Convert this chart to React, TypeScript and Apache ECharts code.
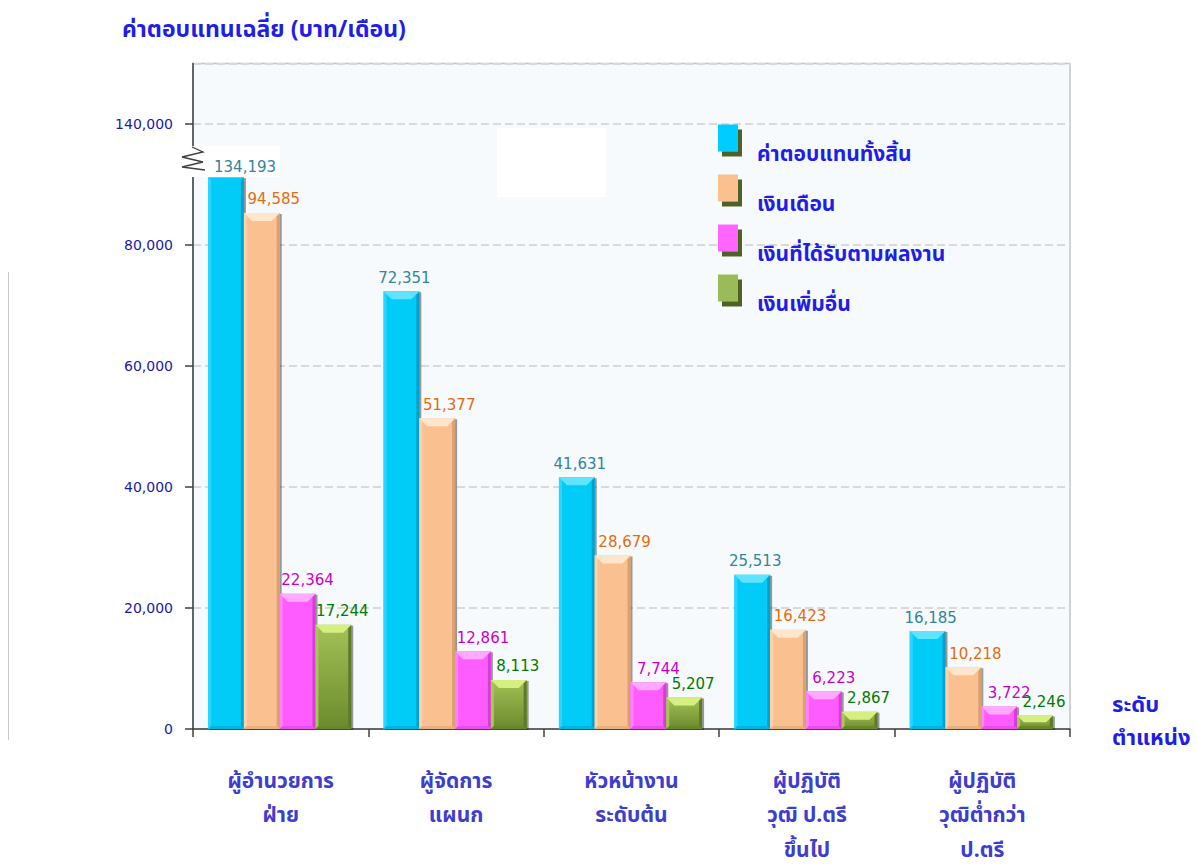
import React, { useEffect, useRef } from "react";
import * as echarts from "echarts";

const categories = [
  "ผู้อำนวยการ\nฝ่าย",
  "ผู้จัดการ\nแผนก",
  "หัวหน้างาน\nระดับต้น",
  "ผู้ปฏิบัติ\nวุฒิ ป.ตรี\nขึ้นไป",
  "ผู้ปฏิบัติ\nวุฒิต่ำกว่า\nป.ตรี",
];
const seriesNames = ["ค่าตอบแทนทั้งสิ้น", "เงินเดือน", "เงินที่ได้รับตามผลงาน", "เงินเพิ่มอื่น"];
const totalPay = [134193, 72351, 41631, 25513, 16185];
const salary = [94585, 51377, 28679, 16423, 10218];
const performancePay = [22364, 12861, 7744, 6223, 3722];
const otherPay = [17244, 8113, 5207, 2867, 2246];
// drawn heights of the bars that cross the axis break
const brokenAxisHeights: Record<number, number> = { 134193: 91200, 94585: 85300 };
const yTicks = [0, 20000, 40000, 60000, 80000, 100000];
const yTickLabels = ["0", "20,000", "40,000", "60,000", "80,000", "140,000"];
const axisNameLines = ["ระดับ", "ตำแหน่ง"];

const FONT = "Tahoma, 'Noto Sans Thai', 'Noto Sans', 'DejaVu Sans', sans-serif";
const BLUE = "#1e1ee6";

const palettes = [
  { body: "#00ccf7", top: "#5fe3ff", side: "#2ad6ff", dark: "#00a2cc", bottom: "#00b4e0", label: "#31859c", legend: "#00ccff", off: 3 },
  { body: "#fac090", top: "#fee6cc", side: "#fcd2aa", dark: "#d9a070", bottom: "#e8b080", label: "#e46c0a", legend: "#fac090", off: 12 },
  { body: "#ff5cff", top: "#ffaaff", side: "#ff80ff", dark: "#d83cd8", bottom: "#e84ee8", label: "#cc00cc", legend: "#ff66ff", off: 10 },
  { body: "#93b24c", top: "#d6f080", side: "#a8c65a", dark: "#5f7a26", bottom: "#6a862c", label: "#007a00", legend: "#9bbb59", off: 9, grad: ["#a4c257", "#6b8a2c"] },
];

const allSeries = [totalPay, salary, performancePay, otherPay];

function fmt(v: number) {
  return v.toLocaleString("en-US");
}

function makeRender(si: number) {
  const pal: any = palettes[si];
  return (params: any, api: any) => {
    const cat = api.value(0);
    const h = api.value(1);
    const real = api.value(2);
    const band = api.size([1, 0])[0];
    const bw = band * 0.204;
    const c = api.coord([cat, h]);
    const base = api.coord([cat, 0]);
    const x0 = c[0] - 2 * bw + si * bw - 1;
    const x1 = x0 + bw;
    const y0 = c[1];
    const y1 = base[1];
    const hgt = y1 - y0;
    const broken = brokenAxisHeights[real] !== undefined;
    const b = broken && si === 0 ? 0 : Math.min(8, hgt / 2, bw / 2);
    const s = Math.min(3, hgt / 3);
    const bodyFill = pal.grad
      ? new echarts.graphic.LinearGradient(0, 0, 0, 1, [
          { offset: 0, color: pal.grad[0] },
          { offset: 1, color: pal.grad[1] },
        ])
      : pal.body;
    const lx = (x0 + x1) / 2 + pal.off + (broken && si === 0 ? 16 : 0);
    const ly = broken && si === 0 ? y0 - 3 : y0 - 6;
    return {
      type: "group",
      children: [
        { type: "rect", shape: { x: x0 + 2, y: y0 + 1, width: bw, height: hgt }, style: { fill: "rgba(30,30,30,0.45)" } },
        { type: "rect", shape: { x: x0, y: y0, width: bw, height: hgt }, style: { fill: bodyFill } },
        { type: "polygon", shape: { points: [[x0, y0], [x0 + s, y0 + s], [x0 + s, y1 - s], [x0, y1]] }, style: { fill: pal.side } },
        { type: "polygon", shape: { points: [[x1, y0], [x1 - s, y0 + s], [x1 - s, y1 - s], [x1, y1]] }, style: { fill: pal.dark } },
        { type: "polygon", shape: { points: [[x0, y0], [x1, y0], [x1 - b, y0 + b], [x0 + b, y0 + b]] }, style: { fill: pal.top } },
        { type: "polygon", shape: { points: [[x0, y1], [x1, y1], [x1 - s, y1 - s], [x0 + s, y1 - s]] }, style: { fill: pal.bottom } },
        {
          type: "text",
          z2: 50,
          style: {
            text: fmt(real),
            x: lx,
            y: ly,
            fill: pal.label,
            font: "15px 'DejaVu Sans', Tahoma, sans-serif",
            align: "center",
            verticalAlign: "bottom",
            textAlign: "center",
            textVerticalAlign: "bottom",
          },
        },
      ],
    };
  };
}

export default function App() {
  const ref = useRef<HTMLDivElement>(null);
  useEffect(() => {
    if (!ref.current) return;
    const chart = echarts.init(ref.current, null, { renderer: "svg" });
    const series = allSeries.map((vals, si) => ({
      name: seriesNames[si],
      type: "custom",
      z: 2,
      itemStyle: { color: palettes[si].legend },
      encode: { x: 0, y: 1 },
      renderItem: makeRender(si),
      data: vals.map((v, i) => [i, brokenAxisHeights[v] ?? v, v]),
    }));
    chart.setOption({
      animation: false,
      backgroundColor: "#ffffff",
      title: {
        text: "ค่าตอบแทนเฉลี่ย (บาท/เดือน)",
        left: 117,
        top: 13,
        textStyle: { fontFamily: FONT, fontSize: 23, fontWeight: "bold", color: BLUE },
      },
      legend: {
        orient: "vertical",
        left: 713,
        top: 119.5,
        icon: "rect",
        itemWidth: 20,
        itemHeight: 27,
        itemGap: 9.5,
        data: seriesNames,
        formatter: "{t|{name}}",
        itemStyle: { shadowColor: "#4f6228", shadowOffsetX: 4, shadowOffsetY: 5, shadowBlur: 0 },
        textStyle: {
          rich: {
            t: {
              fontFamily: FONT,
              fontSize: 21,
              fontWeight: "bold",
              color: BLUE,
              lineHeight: 54,
              verticalAlign: "bottom",
              padding: [0, 0, 0, 14],
            },
          },
        },
      },
      grid: {
        left: 193,
        right: 127,
        top: 63.5,
        bottom: 139,
        show: true,
        outerBoundsMode: "none",
        containLabel: false,
        backgroundColor: "#f7fafc",
        borderColor: "#c4c4c4",
        borderWidth: 1.5,
      },
      xAxis: {
        type: "category",
        data: categories,
        axisLine: { lineStyle: { color: "#404040", width: 1.5 } },
        axisTick: { show: true, length: 8, lineStyle: { color: "#404040", width: 1.5 } },
        axisLabel: {
          interval: 0,
          margin: 35,
          fontFamily: FONT,
          fontSize: 21,
          fontWeight: "bold",
          color: "#3d3dcf",
          lineHeight: 34.5,
          verticalAlign: "top",
        },
        splitLine: { show: false },
      },
      yAxis: {
        type: "value",
        min: 0,
        max: 110000,
        interval: 20000,
        axisLine: { show: true, lineStyle: { color: "#404040", width: 1.5 } },
        axisTick: { show: true, length: 8, lineStyle: { color: "#404040", width: 1.5 } },
        axisLabel: {
          margin: 20,
          fontFamily: "'DejaVu Sans', Tahoma, sans-serif",
          fontSize: 14,
          color: "#1a1aa8",
          showMaxLabel: false,
          formatter: (v: number) => {
            const i = yTicks.indexOf(v);
            return i >= 0 ? yTickLabels[i] : "";
          },
        },
        splitLine: { show: true, lineStyle: { color: "#d9d9d9", width: 2, type: [8, 4] } },
      },
      graphic: [
        { type: "rect", z: 1, shape: { x: 190, y: 146, width: 90, height: 31 }, style: { fill: "#ffffff" } },
        {
          type: "polyline",
          z: 3,
          shape: { points: [[192, 147], [203, 152], [182, 157], [203, 162], [182, 167], [205, 170]] },
          style: { stroke: "#404040", lineWidth: 1.3, fill: "none" },
        },
        { type: "rect", z: 1, shape: { x: 497, y: 128, width: 109, height: 69 }, style: { fill: "#ffffff" } },
        { type: "line", z: 1, shape: { x1: 8.5, y1: 272, x2: 8.5, y2: 740 }, style: { stroke: "#c8c8c8", lineWidth: 1 } },
        ...axisNameLines.map((t, i) => ({
          type: "text",
          z: 5,
          left: 1112,
          top: 694 + i * 33,
          style: { text: t, fontFamily: FONT, fontSize: 22, fontWeight: "bold", fill: BLUE },
        })),
      ],
      series,
    });
    return () => chart.dispose();
  }, []);
  return <div ref={ref} style={{ position: "absolute", left: 0, top: 0, width: 1197, height: 868 }} />;
}
